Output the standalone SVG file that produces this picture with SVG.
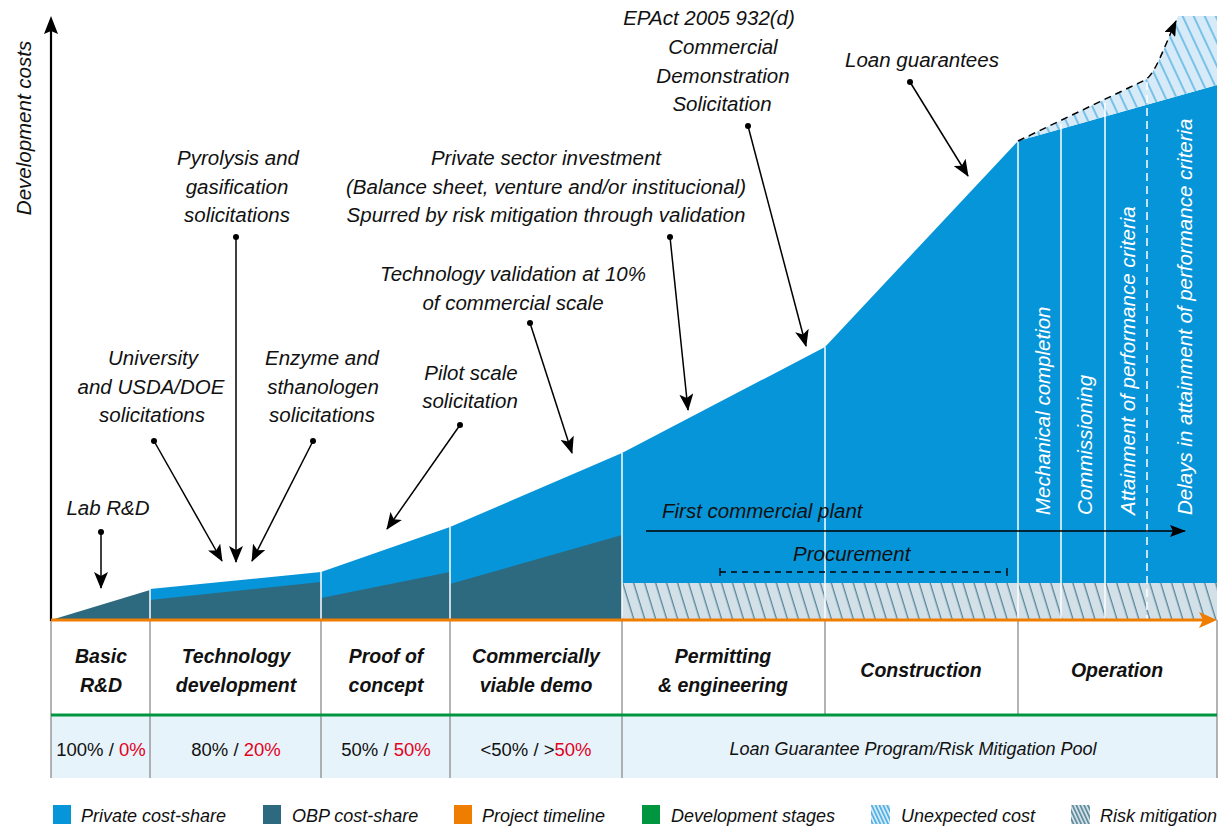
<svg xmlns="http://www.w3.org/2000/svg" width="1225" height="827" viewBox="0 0 1225 827">
<defs>
<style>
text{font-family:"Liberation Sans",Arial,sans-serif}
.a{font-size:20.5px;font-style:italic;fill:#111;text-anchor:middle}
.s{font-size:20.5px;font-style:italic;fill:#111}
.w{font-size:20.5px;font-style:italic;fill:#fff}
.h{font-size:19.5px;font-style:italic;font-weight:bold;fill:#111;text-anchor:middle}
.p{font-size:18.5px;fill:#111;text-anchor:middle}
.pi{font-size:18px;font-style:italic;fill:#111;text-anchor:middle}
.r{fill:#e3001b}
.lg{font-size:18px;font-style:italic;fill:#111}
.ann{stroke:#000;stroke-width:1.5;fill:none;marker-end:url(#ah)}
.wd{stroke:#fff;stroke-width:1.5}
.gd{stroke:#9a9a9a;stroke-width:1.5}
.priv{fill:#0795d9}
.obp{fill:#2d6a80}
</style>
<marker id="ah" viewBox="0 0 17 14" refX="16" refY="7" markerWidth="17" markerHeight="14" markerUnits="userSpaceOnUse" orient="auto"><path d="M0,0 L17,7 L0,14 L4,7 z" fill="#000"/></marker>
<marker id="ah2" viewBox="0 0 16 12" refX="15" refY="6" markerWidth="16" markerHeight="12" markerUnits="userSpaceOnUse" orient="auto"><path d="M0,0 L16,6 L0,12 L3,6 z" fill="#000"/></marker>
<pattern id="risk" patternUnits="userSpaceOnUse" width="10.5" height="10.5" patternTransform="rotate(-17)"><rect width="10.5" height="10.5" fill="#d4e0e8"/><line x1="5" y1="-1" x2="5" y2="12" stroke="#2d6a80" stroke-width="1"/></pattern>
<pattern id="unexp" patternUnits="userSpaceOnUse" width="10" height="10" patternTransform="rotate(-25)"><rect width="10" height="10" fill="#d6eaf8"/><line x1="5" y1="-1" x2="5" y2="11" stroke="#1a98da" stroke-width="1"/></pattern>
<pattern id="riskL" patternUnits="userSpaceOnUse" width="3.5" height="3.5" patternTransform="rotate(-25)"><rect width="3.5" height="3.5" fill="#d4e0e8"/><line x1="1.7" y1="-1" x2="1.7" y2="5" stroke="#2d6a80" stroke-width="1.2"/></pattern>
<pattern id="unexpL" patternUnits="userSpaceOnUse" width="3.5" height="3.5" patternTransform="rotate(-25)"><rect width="3.5" height="3.5" fill="#d6eaf8"/><line x1="1.7" y1="-1" x2="1.7" y2="5" stroke="#1a98da" stroke-width="1.2"/></pattern>
</defs>
<rect width="1225" height="827" fill="#fff"/>

<g id="areas">
<polygon class="priv" points="150,620 150,589 321,572 450,527 622,453 825,347 1018,141 1217,85 1217,620"/>
<path d="M1018,141 L1145,80 C1155,75 1165,45 1178,16 L1217,16 L1217,85 Z" fill="url(#unexp)"/>
<polygon class="obp" points="51,620 150,590 150,620"/>
<polygon class="obp" points="150,600 321,582 321,620 150,620"/>
<polygon class="obp" points="321,598 450,572 450,620 321,620"/>
<polygon class="obp" points="450,584 622,535 622,620 450,620"/>
<rect x="622" y="583" width="595" height="37" fill="url(#risk)"/>
<line class="wd" x1="150" y1="589" x2="150" y2="620"/>
<line class="wd" x1="321" y1="572" x2="321" y2="620"/>
<line class="wd" x1="450" y1="527" x2="450" y2="620"/>
<line class="wd" x1="622" y1="453" x2="622" y2="620"/>
<line class="wd" x1="825" y1="347" x2="825" y2="620"/>
<line class="wd" x1="1018" y1="141" x2="1018" y2="620"/>
<line class="wd" x1="1061" y1="124" x2="1061" y2="620"/>
<line class="wd" x1="1105" y1="103" x2="1105" y2="620"/>
<line class="wd" x1="1147" y1="82" x2="1147" y2="620" stroke-dasharray="8,5"/>
</g>

<g id="stage-labels">
<text class="w" transform="translate(1050,515) rotate(-90)">Mechanical completion</text>
<text class="w" transform="translate(1092,515) rotate(-90)">Commissioning</text>
<text class="w" transform="translate(1135,515) rotate(-90)">Attainment of performance criteria</text>
<text class="w" transform="translate(1192,515) rotate(-90)">Delays in attainment of performance criteria</text>
</g>

<g id="table">
<rect x="51" y="620" width="1166" height="95" fill="#fff"/>
<rect x="51" y="715" width="1166" height="63" fill="#e7f3fb"/>
<line class="gd" x1="51" y1="620" x2="51" y2="778"/>
<line class="gd" x1="150" y1="620" x2="150" y2="778"/>
<line class="gd" x1="321" y1="620" x2="321" y2="778"/>
<line class="gd" x1="450" y1="620" x2="450" y2="778"/>
<line class="gd" x1="622" y1="620" x2="622" y2="778"/>
<line class="gd" x1="825" y1="620" x2="825" y2="715"/>
<line class="gd" x1="1018" y1="620" x2="1018" y2="715"/>
<line class="gd" x1="1217" y1="620" x2="1217" y2="778"/>
<line x1="51" y1="715" x2="1217" y2="715" stroke="#009640" stroke-width="3"/>
<text class="h" x="101" y="663">Basic</text><text class="h" x="101" y="692">R&amp;D</text>
<text class="h" x="236" y="663">Technology</text><text class="h" x="236" y="692">development</text>
<text class="h" x="386" y="663">Proof of</text><text class="h" x="386" y="692">concept</text>
<text class="h" x="536" y="663">Commercially</text><text class="h" x="536" y="692">viable demo</text>
<text class="h" x="723" y="663">Permitting</text><text class="h" x="723" y="692">&amp; engineering</text>
<text class="h" x="921" y="677">Construction</text>
<text class="h" x="1117" y="677">Operation</text>
<text class="p" x="101" y="756">100% / <tspan class="r">0%</tspan></text>
<text class="p" x="236" y="756">80% / <tspan class="r">20%</tspan></text>
<text class="p" x="386" y="756">50% / <tspan class="r">50%</tspan></text>
<text class="p" x="536" y="756">&lt;50% / &gt;<tspan class="r">50%</tspan></text>
<text class="pi" x="913" y="755">Loan Guarantee Program/Risk Mitigation Pool</text>
</g>

<g id="axes">
<line x1="51" y1="621" x2="51" y2="30" stroke="#000" stroke-width="2.2"/>
<path d="M51,16 L58,34 L51,31 L44,34 Z" fill="#000"/>
<line x1="51" y1="620" x2="1205" y2="620" stroke="#ef7d00" stroke-width="3"/>
<path d="M1217,620 L1199,612 L1203,620 L1199,628 Z" fill="#ef7d00"/>
<text class="a" transform="translate(31,128) rotate(-90)">Development costs</text>
</g>

<g id="first-plant">
<line x1="646" y1="531" x2="1185" y2="531" stroke="#000" stroke-width="1.5" marker-end="url(#ah2)"/>
<text class="s" x="662" y="518">First commercial plant</text>
</g>
<g id="procurement">
<line x1="720" y1="572" x2="1007" y2="572" stroke="#000" stroke-width="1.3" stroke-dasharray="6,5"/>
<line x1="720" y1="568" x2="720" y2="576" stroke="#000" stroke-width="1.3"/>
<line x1="1007" y1="568" x2="1007" y2="576" stroke="#000" stroke-width="1.3"/>
<text class="s" x="793" y="561">Procurement</text>
</g>
<g id="unexpected-line">
<path d="M1018,141 L1145,80 C1155,75 1165,45 1176,21" fill="none" stroke="#000" stroke-width="1.5" stroke-dasharray="7,5" marker-end="url(#ah2)"/>
</g>

<g id="n-lab"><text class="a" x="108" y="515">Lab R&amp;D</text></g>
<g id="n-univ"><text class="a" x="153" y="365">University</text><text class="a" x="151" y="394">and USDA/DOE</text><text class="a" x="152" y="422">solicitations</text></g>
<g id="n-pyro"><text class="a" x="238" y="165">Pyrolysis and</text><text class="a" x="237" y="194">gasification</text><text class="a" x="237" y="222">solicitations</text></g>
<g id="n-enzyme"><text class="a" x="322" y="365">Enzyme and</text><text class="a" x="323" y="394">sthanologen</text><text class="a" x="322" y="422">solicitations</text></g>
<g id="n-pilot"><text class="a" x="471" y="380">Pilot scale</text><text class="a" x="470" y="408">solicitation</text></g>
<g id="n-techval"><text class="a" x="513" y="281">Technology validation at 10%</text><text class="a" x="513" y="310">of commercial scale</text></g>
<g id="n-private"><text class="a" x="546" y="165">Private sector investment</text><text class="a" x="546" y="194">(Balance sheet, venture and/or institucional)</text><text class="a" x="546" y="222">Spurred by risk mitigation through validation</text></g>
<g id="n-epact"><text class="a" x="709" y="25">EPAct 2005 932(d)</text><text class="a" x="723" y="54">Commercial</text><text class="a" x="723" y="83">Demonstration</text><text class="a" x="722" y="111">Solicitation</text></g>
<g id="n-loan"><text class="a" x="922" y="67">Loan guarantees</text></g>

<g id="connectors">
<circle cx="101" cy="532" r="3"/><line class="ann" x1="101" y1="532" x2="101" y2="588"/>
<circle cx="154" cy="441" r="3"/><line class="ann" x1="154" y1="441" x2="222" y2="561"/>
<circle cx="236" cy="237" r="3"/><line class="ann" x1="236" y1="237" x2="236" y2="562"/>
<circle cx="313" cy="441" r="3"/><line class="ann" x1="313" y1="441" x2="252" y2="561"/>
<circle cx="460" cy="425" r="3"/><line class="ann" x1="460" y1="425" x2="387" y2="529"/>
<circle cx="530" cy="323" r="3"/><line class="ann" x1="530" y1="323" x2="572" y2="453"/>
<circle cx="670" cy="237" r="3"/><line class="ann" x1="670" y1="237" x2="688" y2="410"/>
<circle cx="748" cy="126" r="3"/><line class="ann" x1="748" y1="126" x2="806" y2="346"/>
<circle cx="910" cy="82" r="3"/><line class="ann" x1="910" y1="82" x2="968" y2="176"/>
</g>

<g id="legend">
<rect x="53" y="805" width="18" height="19" class="priv"/><text class="lg" x="81" y="822">Private cost-share</text>
<rect x="263" y="805" width="18" height="19" class="obp"/><text class="lg" x="292" y="822">OBP cost-share</text>
<rect x="454" y="805" width="18" height="19" fill="#ef7d00"/><text class="lg" x="482" y="822">Project timeline</text>
<rect x="642" y="805" width="18" height="19" fill="#009640"/><text class="lg" x="671" y="822">Development stages</text>
<rect x="871" y="805" width="19" height="19" fill="url(#unexpL)"/><text class="lg" x="901" y="822">Unexpected cost</text>
<rect x="1071" y="805" width="19" height="19" fill="url(#riskL)"/><text class="lg" x="1100" y="822">Risk mitigation</text>
</g>
</svg>
